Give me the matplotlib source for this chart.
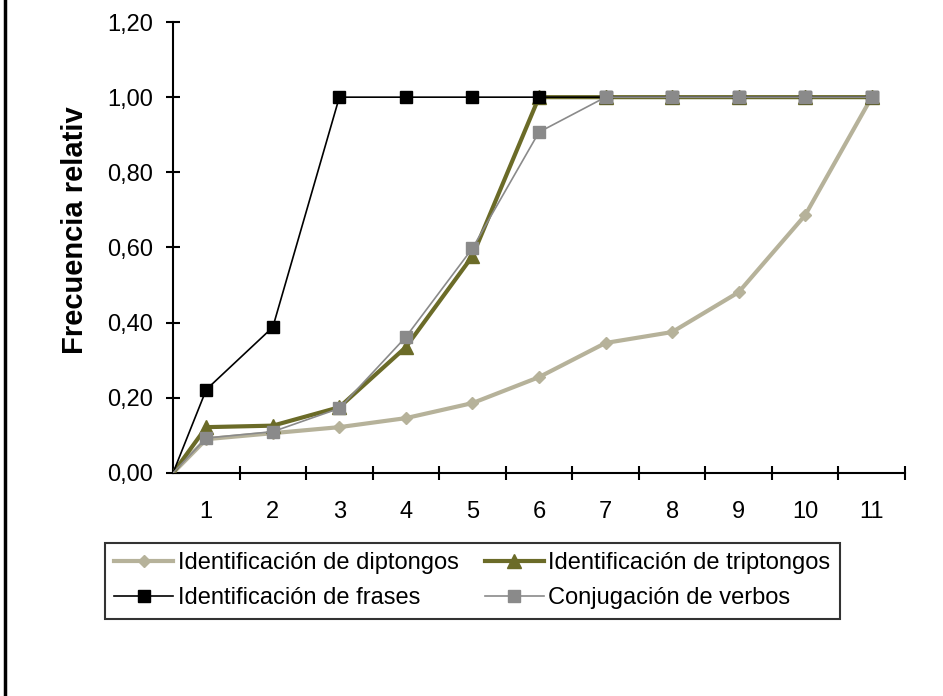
import numpy as np
import matplotlib.pyplot as plt
from matplotlib.lines import Line2D

# categories (first point is the origin at the left edge of the axis)
x_pos = [0.5, 1, 2, 3, 4, 5, 6, 7, 8, 9, 10, 11]
cat_labels = ['1', '2', '3', '4', '5', '6', '7', '8', '9', '10', '11']

diptongos = [0.0, 0.09, 0.106, 0.122, 0.146, 0.186, 0.255, 0.346, 0.375, 0.481, 0.686, 1.0]
triptongos = [0.0, 0.122, 0.126, 0.175, 0.335, 0.577, 1.0, 1.0, 1.0, 1.0, 1.0, 1.0]
frases = [0.0, 0.222, 0.388, 1.0, 1.0, 1.0, 1.0, 1.0, 1.0, 1.0, 1.0, 1.0]
verbos = [0.0, 0.093, 0.11, 0.172, 0.362, 0.598, 0.907, 1.0, 1.0, 1.0, 1.0, 1.0]

y_ticks = [0.0, 0.2, 0.4, 0.6, 0.8, 1.0, 1.2]
y_labels = ['0,00', '0,20', '0,40', '0,60', '0,80', '1,00', '1,20']

plt.rcParams['font.family'] = ['Liberation Sans', 'DejaVu Sans']

fig = plt.figure(figsize=(9.43, 6.96), dpi=100)
W, H = 943.0, 696.0
ax = fig.add_axes([173 / W, 1 - 473 / H, (905 - 173) / W, (473 - 22) / H])

c_dip = '#b6b29a'
c_tri = '#6b6b28'
c_fra = '#000000'
c_ver = '#8a8a8a'

ax.plot(x_pos, diptongos, color=c_dip, lw=3, marker='D', ms=6, markevery=slice(1, None), zorder=3)
ax.plot(x_pos, triptongos, color=c_tri, lw=3, marker='^', ms=10, markevery=slice(1, None), zorder=4)
ax.plot(x_pos, frases, color=c_fra, lw=1.2, marker='s', ms=8, markevery=slice(1, None), zorder=5)
ax.plot(x_pos, verbos, color=c_ver, lw=1.2, marker='s', ms=8, markevery=slice(1, None), zorder=6)

ax.set_xlim(0.5, 11.5)
ax.set_ylim(0, 1.2)
ax.set_yticks(y_ticks)
ax.set_yticklabels(y_labels, fontsize=17)
ax.set_xticks(np.arange(1.5, 12, 1.0))
ax.set_xticklabels([])
ax.set_xticks(np.arange(1, 12), minor=True)
ax.set_xticklabels(cat_labels, minor=True, fontsize=17)
ax.tick_params(axis='x', which='minor', length=0, pad=20)
ax.tick_params(axis='both', which='major', direction='inout', length=10, width=1.5)
ax.tick_params(axis='y', pad=9.5)

for s in ['top', 'right']:
    ax.spines[s].set_visible(False)
for s in ['left', 'bottom']:
    ax.spines[s].set_linewidth(1.5)

fig.text(75 / W, 1 - 230 / H, 'Frecuencia relativ', rotation=90, fontsize=21,
         fontweight='bold', ha='center', va='center')

handles = [
    Line2D([], [], color=c_dip, lw=3, marker='D', ms=6),
    Line2D([], [], color=c_fra, lw=1.2, marker='s', ms=8),
    Line2D([], [], color=c_tri, lw=3, marker='^', ms=10),
    Line2D([], [], color=c_ver, lw=1.2, marker='s', ms=8),
]
names = ['Identificación de diptongos', 'Identificación de frases',
         'Identificación de triptongos', 'Conjugación de verbos']
leg = fig.legend(handles, names, ncol=2, loc='upper left', mode='expand',
                 bbox_to_anchor=(105 / W, 1 - 620 / H, 735 / W, 77 / H),
                 fontsize=17, frameon=True, fancybox=False, handlelength=2.5,
                 handletextpad=0.2, columnspacing=0.2, borderpad=0.4, labelspacing=0.55,
                 borderaxespad=0)
leg.get_frame().set_edgecolor('black')
leg.get_frame().set_linewidth(1.5)

# left border of the original frame
fig.add_artist(Line2D([5 / W, 5 / W], [0, 1], color='black', lw=2.5, transform=fig.transFigure))

fig.savefig('out.png', dpi=100)
